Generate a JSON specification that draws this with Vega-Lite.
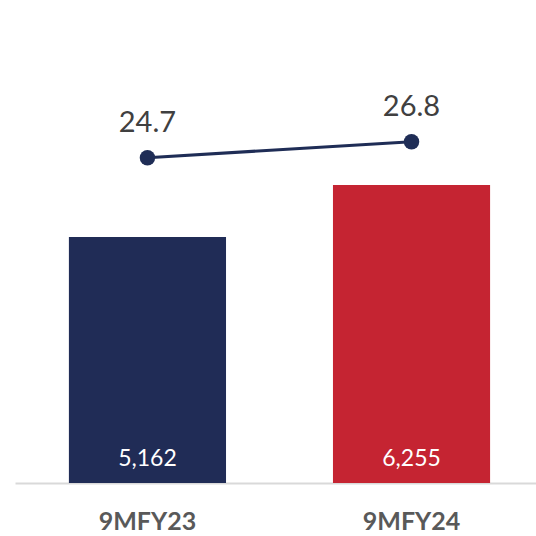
{
  "$schema": "https://vega.github.io/schema/vega-lite/v6.json",
  "width": 521,
  "height": 483,
  "autosize": {"type": "none"},
  "padding": {"left": 15, "top": 0, "right": 0, "bottom": 53},
  "background": "white",
  "config": {"view": {"stroke": null}, "font": "Lato"},
  "data": {
    "values": [
      {"period": "9MFY23", "revenue": 5162, "margin": 24.7, "label": "5,162"},
      {"period": "9MFY24", "revenue": 6255, "margin": 26.8, "label": "6,255"}
    ]
  },
  "layer": [
    {
      "layer": [
        {
          "mark": {"type": "bar"},
          "encoding": {
            "x": {
              "field": "period", "type": "nominal", "sort": null,
              "scale": {"paddingInner": 0.405, "paddingOuter": 0.189, "align": 0.54},
              "axis": {
                "title": null, "labelAngle": 0, "ticks": false,
                "domainColor": "#D9D9D9", "domainWidth": 2,
                "labelFont": "Lato", "labelFontSize": 25, "labelFontWeight": "bold",
                "labelColor": "#595959", "labelPadding": 26
              }
            },
            "y": {"field": "revenue", "type": "quantitative", "scale": {"domain": [0, 10138], "nice": false, "zero": true}, "axis": null},
            "color": {"field": "period", "type": "nominal", "scale": {"domain": ["9MFY23", "9MFY24"], "range": ["#202C56", "#C52432"]}, "legend": null}
          }
        },
        {
          "mark": {"type": "text", "color": "white", "fontSize": 23, "font": "Lato", "baseline": "alphabetic", "dy": -17},
          "encoding": {
            "x": {"field": "period", "type": "nominal", "sort": null},
            "y": {"datum": 0},
            "text": {"field": "label"}
          }
        }
      ]
    },
    {
      "layer": [
        {
          "mark": {"type": "line", "color": "#1F2D56", "strokeWidth": 3},
          "encoding": {
            "x": {"field": "period", "type": "nominal", "sort": null},
            "y": {"field": "margin", "type": "quantitative", "scale": {"domain": [-18, 45.4], "nice": false, "zero": false}, "axis": null}
          }
        },
        {
          "mark": {"type": "point", "filled": true, "color": "#1F2D56", "size": 240, "opacity": 1},
          "encoding": {
            "x": {"field": "period", "type": "nominal", "sort": null},
            "y": {"field": "margin", "type": "quantitative"}
          }
        },
        {
          "mark": {"type": "text", "color": "#404040", "fontSize": 29, "font": "Lato", "baseline": "alphabetic", "dy": -26},
          "encoding": {
            "x": {"field": "period", "type": "nominal", "sort": null},
            "y": {"field": "margin", "type": "quantitative"},
            "text": {"field": "margin", "type": "quantitative", "format": ".1f"}
          }
        }
      ]
    }
  ],
  "resolve": {"scale": {"y": "independent", "color": "independent"}}
}
